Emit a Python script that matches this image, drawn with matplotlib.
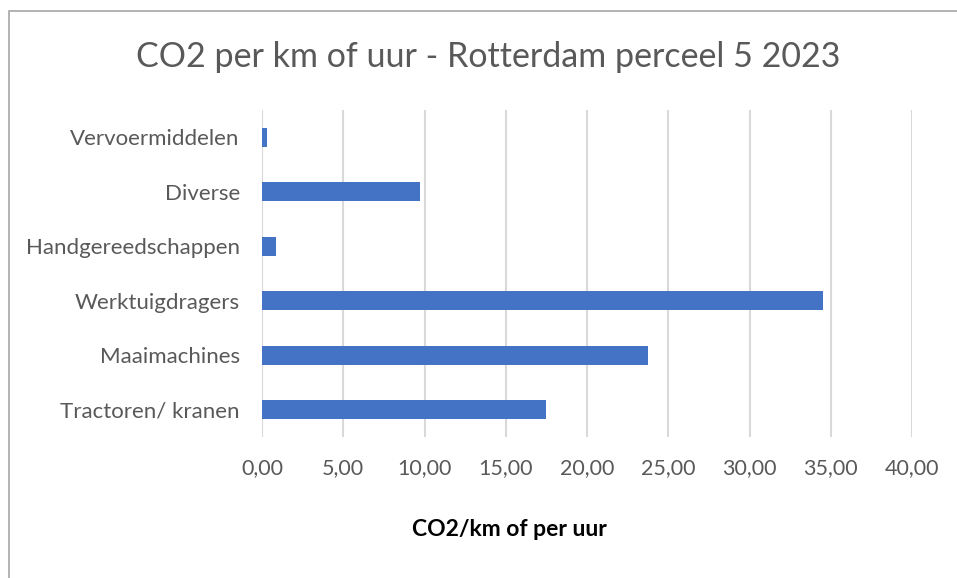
import matplotlib.pyplot as plt
from matplotlib.patches import Rectangle
from matplotlib.ticker import FuncFormatter

plt.rcParams['font.family'] = ['Lato', 'DejaVu Sans']

categories = ["Tractoren/ kranen", "Maaimachines", "Werktuigdragers",
              "Handgereedschappen", "Diverse", "Vervoermiddelen"]
values = [17.45, 23.75, 34.5, 0.84, 9.73, 0.31]
ticks = [0, 5, 10, 15, 20, 25, 30, 35, 40]

fig = plt.figure(figsize=(9.57, 5.78), dpi=100)
ax = fig.add_axes([262 / 957, 1 - 437 / 578, 650 / 957, 327 / 578])

ax.barh(range(len(categories)), values, height=0.35, color="#4472c4", zorder=3)
ax.set_xlim(0, 40)
ax.set_ylim(-0.5, len(categories) - 0.5)
ax.set_xticks(ticks)
ax.xaxis.set_major_formatter(FuncFormatter(lambda v, p: f"{v:.2f}".replace(".", ",")))
ax.set_yticks(range(len(categories)))
ax.set_yticklabels(categories)
ax.grid(axis="x", color="#d9d9d9", linewidth=1.5, zorder=0)
for s in ax.spines.values():
    s.set_visible(False)
ax.tick_params(length=0, labelsize=16, labelcolor="#595959")
ax.tick_params(axis="x", labelsize=15.5, pad=15)
ax.tick_params(axis="y", pad=16)

fig.text(509 / 957, 1 - 530 / 578, "CO2/km of per uur", ha="center", va="center",
         fontsize=16.5, fontweight="bold", color="black")
fig.text(488 / 957, 1 - 57 / 578, "CO2 per km of uur - Rotterdam perceel 5 2023",
         ha="center", va="center", fontsize=24.5, color="#595959")

fig.patches.append(Rectangle((8.5 / 957, -0.1), 1.1, 1.1 - 11.5 / 578, transform=fig.transFigure,
                             fill=False, edgecolor="#a6a6a6", linewidth=1.2))

fig.savefig("out.png", dpi=100)
